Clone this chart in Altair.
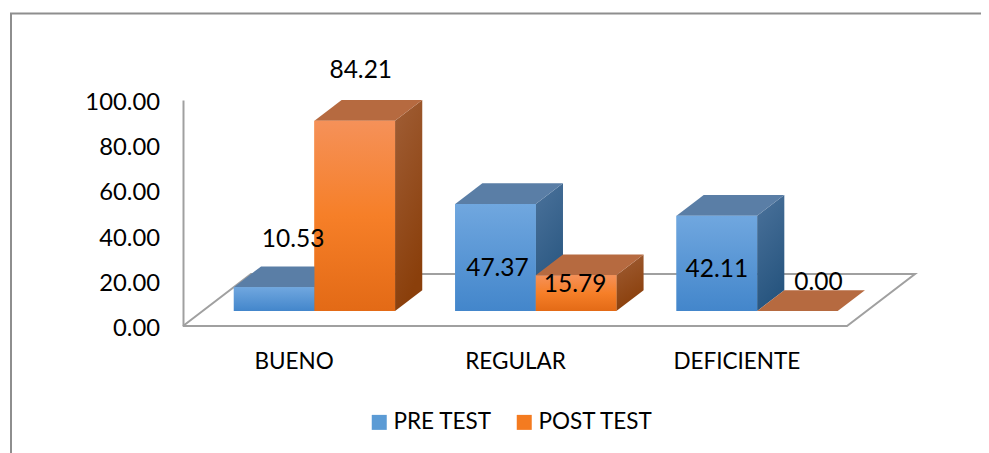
import altair as alt
import pandas as pd

categories = ["BUENO", "REGULAR", "DEFICIENTE"]
pre_test = [10.53, 47.37, 42.11]
post_test = [84.21, 15.79, 0.00]

FONT = "Lato"
FS = 23.5
PX_SLOT = 221.33
PX_V = 2.26
DX = 68 / PX_SLOT      # floor depth in category slots
DY = 52 / PX_V         # floor depth in value units
Z0, Z1 = 0.288, 0.688  # bar depth range on floor
BAR = 80.6 / PX_SLOT
X0 = (1 - 2 * BAR) / 2 + 1.2 / PX_SLOT

# label offset from the front-top centre of each bar, in pixels (right, down)
nudge = {"PRE TEST": [(19, -47), (2, 65), (0, 54)],
         "POST TEST": [(6, -50), (-1, 10), (21, -28)]}

series = {"PRE TEST": pre_test, "POST TEST": post_test}
front, side, top, labels = [], [], [], []
for s_i, (name, vals) in enumerate(series.items()):
    for c_i, v in enumerate(vals):
        xl = c_i + X0 + s_i * BAR
        xr = xl + BAR
        key = f"{name}-{c_i}"
        front.append(dict(series=name, x=xl + Z0 * DX, x2=xr + Z0 * DX, y=Z0 * DY, y2=v + Z0 * DY))
        for z in (Z0, Z1):
            side.append(dict(series=name, key=key, x=xr + z * DX, y=z * DY, y2=v + z * DY))
            top.append(dict(series=name, key=key, x=xl + z * DX, x2=xr + z * DX, y=v + z * DY))
        nx, ny = nudge[name][c_i]
        labels.append(dict(series=name, text=f"{v:.2f}",
                           x=(xl + xr) / 2 + Z0 * DX + nx / PX_SLOT,
                           y=v + Z0 * DY - ny / PX_V))
front, side, top, labels = map(pd.DataFrame, (front, side, top, labels))

floor = pd.DataFrame([
    dict(o=0, x=0, y=0), dict(o=1, x=DX, y=DY), dict(o=2, x=3 + DX, y=DY),
    dict(o=3, x=3, y=0), dict(o=4, x=0, y=0)])


def grad(stops, x2=0, y2=1):
    return alt.LinearGradient(
        gradient="linear", x1=0, y1=0, x2=x2, y2=y2,
        stops=[alt.GradientStop(offset=o, color=c) for o, c in stops])


styles = {
    "PRE TEST": dict(front=grad([(0, "#70A7DF"), (1, "#4386CB")]),
                     side=grad([(0, "#4B729B"), (1, "#27557F")], x2=0.3),
                     top="#5A7EA6"),
    "POST TEST": dict(front=grad([(0, "#F59159"), (0.5, "#F67F28"), (1, "#E36A16")]),
                      side=grad([(0, "#A05E36"), (1, "#8A3F0B")], x2=0.3),
                      top="#B66A40"),
}

xs = alt.Scale(domain=[0, 3], nice=False, zero=False)
ys = alt.Scale(domain=[0, 100], nice=False, zero=False)
label_expr = "[" + ",".join(f"'{c}'" for c in categories) + "][floor(datum.value)]"
GREY = "#A0A0A0"

x_axis = alt.Axis(values=[i + 0.5 for i in range(len(categories))], labelExpr=label_expr,
                  title=None, grid=False, ticks=False, domain=False, labelPadding=24,
                  labelFontSize=FS - 1, labelFont=FONT, labelColor="#000000", labelFlush=False)
y_axis = alt.Axis(values=[0, 20, 40, 60, 80, 100], format=".2f", title=None, grid=False,
                  ticks=False, domain=True, domainColor=GREY, domainWidth=2, labelPadding=23.5,
                  labelOffset=2.5, labelFontSize=FS + 0.3, labelFont=FONT, labelColor="#000000")

X = lambda f="x": alt.X(f"{f}:Q", scale=xs, axis=x_axis)
Y = lambda f="y": alt.Y(f"{f}:Q", scale=ys, axis=y_axis)

layers = [
    alt.Chart(floor).mark_line(color=GREY, strokeWidth=2).encode(x=X(), y=Y(), order="o:Q"),
    alt.Chart(pd.DataFrame({"a": [0]})).mark_rule(color="#8E8E8E", strokeWidth=2).encode(
        x=alt.value(-172), y=alt.value(-86.5), y2=alt.value(360)),
    alt.Chart(pd.DataFrame({"a": [0]})).mark_rule(color="#8E8E8E", strokeWidth=2).encode(
        x=alt.value(-173), x2=alt.value(810), y=alt.value(-86.5)),
    alt.Chart(front).mark_rect().encode(
        x=X(), x2="x2:Q", y=Y(), y2="y2:Q",
        color=alt.Color("series:N",
                        scale=alt.Scale(domain=list(series), range=["#5B9BD5", "#F47B20"]),
                        legend=alt.Legend(orient="none", legendX=185, legendY=311, direction="horizontal",
                                          title=None, symbolType="square", symbolSize=225,
                                          symbolStrokeWidth=0, labelFontSize=FS - 1, labelFont=FONT,
                                          labelColor="#000000", columnPadding=21, labelOffset=3,
                                          symbolOpacity=1))),
]
for name in series:
    st = styles[name]
    layers += [
        alt.Chart(side[side.series == name]).mark_area(color=st["side"], orient="vertical").encode(
            x=X(), y=Y(), y2="y2:Q", detail="key:N"),
        alt.Chart(top[top.series == name]).mark_area(color=st["top"], orient="horizontal").encode(
            x=X(), x2="x2:Q", y=Y(), detail="key:N"),
        alt.Chart(front[front.series == name]).mark_rect(color=st["front"]).encode(
            x=X(), x2="x2:Q", y=Y(), y2="y2:Q"),
    ]
layers.append(
    alt.Chart(labels).mark_text(font=FONT, fontSize=FS + 1, color="#000000", baseline="middle").encode(
        x=X(), y=Y(), text="text:N"))

chart = alt.layer(*layers).properties(
    width=664, height=226,
    padding={"left": 175, "top": 92, "right": 134, "bottom": 127},
    autosize=alt.AutoSizeParams(type="none"),
    background="#FFFFFF",
).configure_view(stroke=None)

chart.save("out.html", embed_options={"renderer": "svg", "actions": False})
